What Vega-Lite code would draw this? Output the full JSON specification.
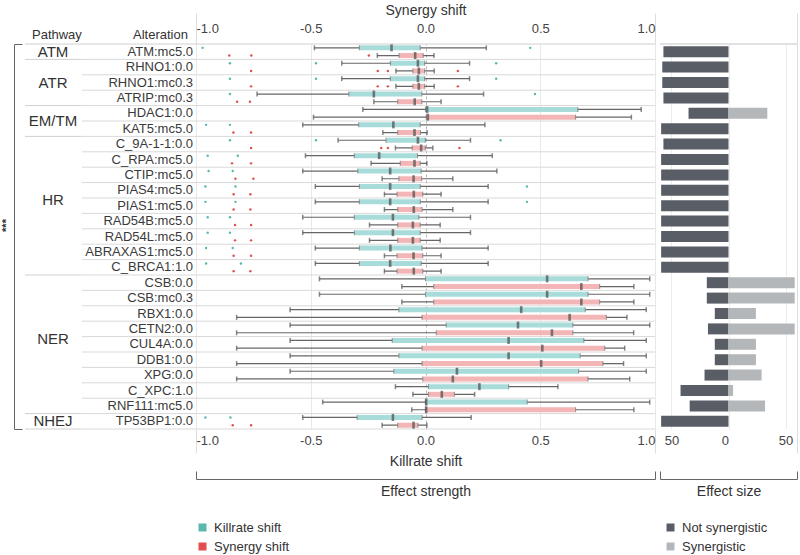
{
  "$schema": "https://vega.github.io/schema/vega-lite/v6.json",
  "width": 800,
  "height": 385,
  "autosize": "none",
  "padding": {"left": 0, "top": 44, "right": 0, "bottom": 126},
  "background": "white",
  "config": {
    "font": "Liberation Sans",
    "view": {"stroke": null},
    "axis": {"labelFont": "Liberation Sans", "titleFont": "Liberation Sans", "labelColor": "#444444", "titleColor": "#333333", "titleFontWeight": "normal"},
    "legend": {"labelFont": "Liberation Sans"},
    "text": {"font": "Liberation Sans"}
  },
  "datasets": {
    "rows": [
      {"alt": "ATM:mc5.0", "pathway": "ATM"},
      {"alt": "RHNO1:0.0", "pathway": "ATR"},
      {"alt": "RHNO1:mc0.3", "pathway": "ATR"},
      {"alt": "ATRIP:mc0.3", "pathway": "ATR"},
      {"alt": "HDAC1:0.0", "pathway": "EM/TM"},
      {"alt": "KAT5:mc5.0", "pathway": "EM/TM"},
      {"alt": "C_9A-1-1:0.0", "pathway": "HR"},
      {"alt": "C_RPA:mc5.0", "pathway": "HR"},
      {"alt": "CTIP:mc5.0", "pathway": "HR"},
      {"alt": "PIAS4:mc5.0", "pathway": "HR"},
      {"alt": "PIAS1:mc5.0", "pathway": "HR"},
      {"alt": "RAD54B:mc5.0", "pathway": "HR"},
      {"alt": "RAD54L:mc5.0", "pathway": "HR"},
      {"alt": "ABRAXAS1:mc5.0", "pathway": "HR"},
      {"alt": "C_BRCA1:1.0", "pathway": "HR"},
      {"alt": "CSB:0.0", "pathway": "NER"},
      {"alt": "CSB:mc0.3", "pathway": "NER"},
      {"alt": "RBX1:0.0", "pathway": "NER"},
      {"alt": "CETN2:0.0", "pathway": "NER"},
      {"alt": "CUL4A:0.0", "pathway": "NER"},
      {"alt": "DDB1:0.0", "pathway": "NER"},
      {"alt": "XPG:0.0", "pathway": "NER"},
      {"alt": "C_XPC:1.0", "pathway": "NER"},
      {"alt": "RNF111:mc5.0", "pathway": "NER"},
      {"alt": "TP53BP1:0.0", "pathway": "NHEJ"}
    ],
    "groups": [
      {"pathway": "ATM", "first": "ATM:mc5.0", "last": "ATM:mc5.0", "at": "ATM:mc5.0"},
      {"pathway": "ATR", "first": "RHNO1:0.0", "last": "ATRIP:mc0.3", "at": "RHNO1:mc0.3"},
      {"pathway": "EM/TM", "first": "HDAC1:0.0", "last": "KAT5:mc5.0", "at": "KAT5:mc5.0"},
      {"pathway": "HR", "first": "C_9A-1-1:0.0", "last": "C_BRCA1:1.0", "at": "PIAS1:mc5.0"},
      {"pathway": "NER", "first": "CSB:0.0", "last": "RNF111:mc5.0", "at": "CUL4A:0.0"},
      {"pathway": "NHEJ", "first": "TP53BP1:0.0", "last": "TP53BP1:0.0", "at": "TP53BP1:0.0"}
    ],
    "box": [
      {"alt": "ATM:mc5.0", "series": "Killrate shift", "lo": -0.484, "q1": -0.288, "med": -0.148, "q3": -0.023, "hi": 0.265},
      {"alt": "ATM:mc5.0", "series": "Synergy shift", "lo": -0.21, "q1": -0.115, "med": -0.045, "q3": -0.01, "hi": 0.037},
      {"alt": "RHNO1:0.0", "series": "Killrate shift", "lo": -0.365, "q1": -0.153, "med": -0.033, "q3": -0.004, "hi": 0.192},
      {"alt": "RHNO1:0.0", "series": "Synergy shift", "lo": -0.129, "q1": -0.055, "med": -0.029, "q3": -0.004, "hi": 0.038},
      {"alt": "RHNO1:mc0.3", "series": "Killrate shift", "lo": -0.365, "q1": -0.153, "med": -0.033, "q3": -0.004, "hi": 0.192},
      {"alt": "RHNO1:mc0.3", "series": "Synergy shift", "lo": -0.129, "q1": -0.055, "med": -0.029, "q3": -0.004, "hi": 0.038},
      {"alt": "ATRIP:mc0.3", "series": "Killrate shift", "lo": -0.734, "q1": -0.334, "med": -0.225, "q3": -0.016, "hi": 0.253},
      {"alt": "ATRIP:mc0.3", "series": "Synergy shift", "lo": -0.225, "q1": -0.121, "med": -0.047, "q3": -0.016, "hi": 0.068},
      {"alt": "HDAC1:0.0", "series": "Killrate shift", "lo": -0.273, "q1": 0.0, "med": 0.007, "q3": 0.664, "hi": 0.94},
      {"alt": "HDAC1:0.0", "series": "Synergy shift", "lo": -0.488, "q1": 0.003, "med": 0.01, "q3": 0.654, "hi": 0.897},
      {"alt": "KAT5:mc5.0", "series": "Killrate shift", "lo": -0.535, "q1": -0.291, "med": -0.14, "q3": -0.023, "hi": 0.259},
      {"alt": "KAT5:mc5.0", "series": "Synergy shift", "lo": -0.186, "q1": -0.121, "med": -0.048, "q3": -0.022, "hi": 0.007},
      {"alt": "C_9A-1-1:0.0", "series": "Killrate shift", "lo": -0.381, "q1": -0.172, "med": -0.033, "q3": -0.001, "hi": 0.196},
      {"alt": "C_9A-1-1:0.0", "series": "Synergy shift", "lo": -0.131, "q1": -0.058, "med": -0.019, "q3": -0.001, "hi": 0.032},
      {"alt": "C_RPA:mc5.0", "series": "Killrate shift", "lo": -0.523, "q1": -0.31, "med": -0.202, "q3": -0.035, "hi": 0.291},
      {"alt": "C_RPA:mc5.0", "series": "Synergy shift", "lo": -0.237, "q1": -0.11, "med": -0.048, "q3": -0.023, "hi": 0.006},
      {"alt": "CTIP:mc5.0", "series": "Killrate shift", "lo": -0.535, "q1": -0.295, "med": -0.154, "q3": -0.019, "hi": 0.311},
      {"alt": "CTIP:mc5.0", "series": "Synergy shift", "lo": -0.189, "q1": -0.116, "med": -0.052, "q3": -0.017, "hi": 0.119},
      {"alt": "PIAS4:mc5.0", "series": "Killrate shift", "lo": -0.48, "q1": -0.288, "med": -0.154, "q3": -0.023, "hi": 0.273},
      {"alt": "PIAS4:mc5.0", "series": "Synergy shift", "lo": -0.179, "q1": -0.124, "med": -0.051, "q3": -0.012, "hi": 0.068},
      {"alt": "PIAS1:mc5.0", "series": "Killrate shift", "lo": -0.48, "q1": -0.288, "med": -0.154, "q3": -0.023, "hi": 0.273},
      {"alt": "PIAS1:mc5.0", "series": "Synergy shift", "lo": -0.179, "q1": -0.121, "med": -0.051, "q3": -0.015, "hi": 0.119},
      {"alt": "RAD54B:mc5.0", "series": "Killrate shift", "lo": -0.535, "q1": -0.31, "med": -0.142, "q3": -0.029, "hi": 0.196},
      {"alt": "RAD54B:mc5.0", "series": "Synergy shift", "lo": -0.244, "q1": -0.121, "med": -0.055, "q3": -0.023, "hi": 0.064},
      {"alt": "RAD54L:mc5.0", "series": "Killrate shift", "lo": -0.535, "q1": -0.31, "med": -0.142, "q3": -0.023, "hi": 0.196},
      {"alt": "RAD54L:mc5.0", "series": "Synergy shift", "lo": -0.244, "q1": -0.121, "med": -0.055, "q3": -0.023, "hi": 0.064},
      {"alt": "ABRAXAS1:mc5.0", "series": "Killrate shift", "lo": -0.48, "q1": -0.288, "med": -0.153, "q3": -0.015, "hi": 0.273},
      {"alt": "ABRAXAS1:mc5.0", "series": "Synergy shift", "lo": -0.179, "q1": -0.124, "med": -0.052, "q3": -0.012, "hi": 0.068},
      {"alt": "C_BRCA1:1.0", "series": "Killrate shift", "lo": -0.48, "q1": -0.288, "med": -0.154, "q3": -0.019, "hi": 0.273},
      {"alt": "C_BRCA1:1.0", "series": "Synergy shift", "lo": -0.179, "q1": -0.124, "med": -0.051, "q3": -0.012, "hi": 0.068},
      {"alt": "CSB:0.0", "series": "Killrate shift", "lo": -0.462, "q1": 0.0, "med": 0.53, "q3": 0.708, "hi": 0.977},
      {"alt": "CSB:0.0", "series": "Synergy shift", "lo": -0.103, "q1": 0.036, "med": 0.679, "q3": 0.759, "hi": 0.908},
      {"alt": "CSB:mc0.3", "series": "Killrate shift", "lo": -0.462, "q1": 0.0, "med": 0.53, "q3": 0.708, "hi": 0.977},
      {"alt": "CSB:mc0.3", "series": "Synergy shift", "lo": -0.103, "q1": 0.036, "med": 0.679, "q3": 0.759, "hi": 0.908},
      {"alt": "RBX1:0.0", "series": "Killrate shift", "lo": -0.59, "q1": -0.116, "med": 0.417, "q3": 0.696, "hi": 0.962},
      {"alt": "RBX1:0.0", "series": "Synergy shift", "lo": -0.823, "q1": -0.015, "med": 0.628, "q3": 0.788, "hi": 0.878},
      {"alt": "CETN2:0.0", "series": "Killrate shift", "lo": -0.59, "q1": 0.09, "med": 0.403, "q3": 0.642, "hi": 0.977},
      {"alt": "CETN2:0.0", "series": "Synergy shift", "lo": -0.823, "q1": 0.047, "med": 0.551, "q3": 0.642, "hi": 0.907},
      {"alt": "CUL4A:0.0", "series": "Killrate shift", "lo": -0.59, "q1": -0.145, "med": 0.362, "q3": 0.69, "hi": 0.962},
      {"alt": "CUL4A:0.0", "series": "Synergy shift", "lo": -0.823, "q1": -0.015, "med": 0.509, "q3": 0.781, "hi": 0.868},
      {"alt": "DDB1:0.0", "series": "Killrate shift", "lo": -0.59, "q1": -0.116, "med": 0.362, "q3": 0.674, "hi": 0.962},
      {"alt": "DDB1:0.0", "series": "Synergy shift", "lo": -0.823, "q1": -0.015, "med": 0.504, "q3": 0.773, "hi": 0.863},
      {"alt": "XPG:0.0", "series": "Killrate shift", "lo": -0.59, "q1": -0.138, "med": 0.137, "q3": 0.667, "hi": 0.962},
      {"alt": "XPG:0.0", "series": "Synergy shift", "lo": -0.823, "q1": -0.012, "med": 0.119, "q3": 0.708, "hi": 0.89},
      {"alt": "C_XPC:1.0", "series": "Killrate shift", "lo": -0.131, "q1": 0.013, "med": 0.235, "q3": 0.362, "hi": 0.577},
      {"alt": "C_XPC:1.0", "series": "Synergy shift", "lo": -0.055, "q1": 0.013, "med": 0.071, "q3": 0.126, "hi": 0.214},
      {"alt": "RNF111:mc5.0", "series": "Killrate shift", "lo": -0.448, "q1": 0.0, "med": 0.003, "q3": 0.443, "hi": 0.977},
      {"alt": "RNF111:mc5.0", "series": "Synergy shift", "lo": -0.06, "q1": 0.0, "med": 0.003, "q3": 0.654, "hi": 0.908},
      {"alt": "TP53BP1:0.0", "series": "Killrate shift", "lo": -0.535, "q1": -0.298, "med": -0.142, "q3": -0.015, "hi": 0.199},
      {"alt": "TP53BP1:0.0", "series": "Synergy shift", "lo": -0.189, "q1": -0.121, "med": -0.052, "q3": -0.033, "hi": 0.006}
    ],
    "out": [
      {"alt": "ATM:mc5.0", "series": "Killrate shift", "v": -0.971},
      {"alt": "ATM:mc5.0", "series": "Killrate shift", "v": 0.456},
      {"alt": "ATM:mc5.0", "series": "Synergy shift", "v": -0.855},
      {"alt": "ATM:mc5.0", "series": "Synergy shift", "v": -0.759},
      {"alt": "ATM:mc5.0", "series": "Synergy shift", "v": -0.247},
      {"alt": "RHNO1:0.0", "series": "Killrate shift", "v": -0.852},
      {"alt": "RHNO1:0.0", "series": "Killrate shift", "v": -0.477},
      {"alt": "RHNO1:0.0", "series": "Killrate shift", "v": 0.308},
      {"alt": "RHNO1:0.0", "series": "Synergy shift", "v": -0.76},
      {"alt": "RHNO1:0.0", "series": "Synergy shift", "v": -0.208},
      {"alt": "RHNO1:0.0", "series": "Synergy shift", "v": -0.164},
      {"alt": "RHNO1:0.0", "series": "Synergy shift", "v": 0.141},
      {"alt": "RHNO1:mc0.3", "series": "Killrate shift", "v": -0.852},
      {"alt": "RHNO1:mc0.3", "series": "Killrate shift", "v": -0.477},
      {"alt": "RHNO1:mc0.3", "series": "Killrate shift", "v": 0.308},
      {"alt": "RHNO1:mc0.3", "series": "Synergy shift", "v": -0.76},
      {"alt": "RHNO1:mc0.3", "series": "Synergy shift", "v": -0.208},
      {"alt": "RHNO1:mc0.3", "series": "Synergy shift", "v": -0.164},
      {"alt": "RHNO1:mc0.3", "series": "Synergy shift", "v": 0.141},
      {"alt": "ATRIP:mc0.3", "series": "Killrate shift", "v": -0.852},
      {"alt": "ATRIP:mc0.3", "series": "Killrate shift", "v": 0.477},
      {"alt": "ATRIP:mc0.3", "series": "Synergy shift", "v": -0.821},
      {"alt": "ATRIP:mc0.3", "series": "Synergy shift", "v": -0.765},
      {"alt": "KAT5:mc5.0", "series": "Killrate shift", "v": -0.956},
      {"alt": "KAT5:mc5.0", "series": "Killrate shift", "v": -0.852},
      {"alt": "KAT5:mc5.0", "series": "Synergy shift", "v": -0.837},
      {"alt": "KAT5:mc5.0", "series": "Synergy shift", "v": -0.76},
      {"alt": "C_9A-1-1:0.0", "series": "Killrate shift", "v": -0.852},
      {"alt": "C_9A-1-1:0.0", "series": "Killrate shift", "v": -0.477},
      {"alt": "C_9A-1-1:0.0", "series": "Killrate shift", "v": 0.327},
      {"alt": "C_9A-1-1:0.0", "series": "Synergy shift", "v": -0.76},
      {"alt": "C_9A-1-1:0.0", "series": "Synergy shift", "v": -0.193},
      {"alt": "C_9A-1-1:0.0", "series": "Synergy shift", "v": -0.164},
      {"alt": "C_9A-1-1:0.0", "series": "Synergy shift", "v": 0.148},
      {"alt": "C_RPA:mc5.0", "series": "Killrate shift", "v": -0.949},
      {"alt": "C_RPA:mc5.0", "series": "Killrate shift", "v": -0.818},
      {"alt": "C_RPA:mc5.0", "series": "Synergy shift", "v": -0.843},
      {"alt": "C_RPA:mc5.0", "series": "Synergy shift", "v": -0.76},
      {"alt": "CTIP:mc5.0", "series": "Killrate shift", "v": -0.945},
      {"alt": "CTIP:mc5.0", "series": "Killrate shift", "v": -0.84},
      {"alt": "CTIP:mc5.0", "series": "Synergy shift", "v": -0.828},
      {"alt": "CTIP:mc5.0", "series": "Synergy shift", "v": -0.75},
      {"alt": "PIAS4:mc5.0", "series": "Killrate shift", "v": -0.959},
      {"alt": "PIAS4:mc5.0", "series": "Killrate shift", "v": -0.828},
      {"alt": "PIAS4:mc5.0", "series": "Killrate shift", "v": 0.442},
      {"alt": "PIAS4:mc5.0", "series": "Synergy shift", "v": -0.836},
      {"alt": "PIAS4:mc5.0", "series": "Synergy shift", "v": -0.763},
      {"alt": "PIAS1:mc5.0", "series": "Killrate shift", "v": -0.959},
      {"alt": "PIAS1:mc5.0", "series": "Killrate shift", "v": -0.828},
      {"alt": "PIAS1:mc5.0", "series": "Killrate shift", "v": 0.442},
      {"alt": "PIAS1:mc5.0", "series": "Synergy shift", "v": -0.836},
      {"alt": "PIAS1:mc5.0", "series": "Synergy shift", "v": -0.763},
      {"alt": "RAD54B:mc5.0", "series": "Killrate shift", "v": -0.949},
      {"alt": "RAD54B:mc5.0", "series": "Killrate shift", "v": -0.852},
      {"alt": "RAD54B:mc5.0", "series": "Synergy shift", "v": -0.83},
      {"alt": "RAD54B:mc5.0", "series": "Synergy shift", "v": -0.76},
      {"alt": "RAD54L:mc5.0", "series": "Killrate shift", "v": -0.949},
      {"alt": "RAD54L:mc5.0", "series": "Killrate shift", "v": -0.852},
      {"alt": "RAD54L:mc5.0", "series": "Synergy shift", "v": -0.83},
      {"alt": "RAD54L:mc5.0", "series": "Synergy shift", "v": -0.76},
      {"alt": "ABRAXAS1:mc5.0", "series": "Killrate shift", "v": -0.956},
      {"alt": "ABRAXAS1:mc5.0", "series": "Killrate shift", "v": -0.84},
      {"alt": "ABRAXAS1:mc5.0", "series": "Synergy shift", "v": -0.836},
      {"alt": "ABRAXAS1:mc5.0", "series": "Synergy shift", "v": -0.76},
      {"alt": "C_BRCA1:1.0", "series": "Killrate shift", "v": -0.956},
      {"alt": "C_BRCA1:1.0", "series": "Killrate shift", "v": -0.804},
      {"alt": "C_BRCA1:1.0", "series": "Synergy shift", "v": -0.836},
      {"alt": "C_BRCA1:1.0", "series": "Synergy shift", "v": -0.763},
      {"alt": "TP53BP1:0.0", "series": "Killrate shift", "v": -0.959},
      {"alt": "TP53BP1:0.0", "series": "Killrate shift", "v": -0.85},
      {"alt": "TP53BP1:0.0", "series": "Synergy shift", "v": -0.84},
      {"alt": "TP53BP1:0.0", "series": "Synergy shift", "v": -0.76}
    ],
    "bars": [
      {"alt": "ATM:mc5.0", "status": "Not synergistic", "n": 57},
      {"alt": "RHNO1:0.0", "status": "Not synergistic", "n": 58},
      {"alt": "RHNO1:mc0.3", "status": "Not synergistic", "n": 58},
      {"alt": "ATRIP:mc0.3", "status": "Not synergistic", "n": 57},
      {"alt": "HDAC1:0.0", "status": "Not synergistic", "n": 35},
      {"alt": "HDAC1:0.0", "status": "Synergistic", "n": 34},
      {"alt": "KAT5:mc5.0", "status": "Not synergistic", "n": 59},
      {"alt": "C_9A-1-1:0.0", "status": "Not synergistic", "n": 57},
      {"alt": "C_RPA:mc5.0", "status": "Not synergistic", "n": 59},
      {"alt": "CTIP:mc5.0", "status": "Not synergistic", "n": 59},
      {"alt": "PIAS4:mc5.0", "status": "Not synergistic", "n": 59},
      {"alt": "PIAS1:mc5.0", "status": "Not synergistic", "n": 59},
      {"alt": "RAD54B:mc5.0", "status": "Not synergistic", "n": 59},
      {"alt": "RAD54L:mc5.0", "status": "Not synergistic", "n": 59},
      {"alt": "ABRAXAS1:mc5.0", "status": "Not synergistic", "n": 59},
      {"alt": "C_BRCA1:1.0", "status": "Not synergistic", "n": 59},
      {"alt": "CSB:0.0", "status": "Not synergistic", "n": 19},
      {"alt": "CSB:0.0", "status": "Synergistic", "n": 58},
      {"alt": "CSB:mc0.3", "status": "Not synergistic", "n": 19},
      {"alt": "CSB:mc0.3", "status": "Synergistic", "n": 58},
      {"alt": "RBX1:0.0", "status": "Not synergistic", "n": 12},
      {"alt": "RBX1:0.0", "status": "Synergistic", "n": 24},
      {"alt": "CETN2:0.0", "status": "Not synergistic", "n": 18},
      {"alt": "CETN2:0.0", "status": "Synergistic", "n": 58},
      {"alt": "CUL4A:0.0", "status": "Not synergistic", "n": 12},
      {"alt": "CUL4A:0.0", "status": "Synergistic", "n": 24},
      {"alt": "DDB1:0.0", "status": "Not synergistic", "n": 12},
      {"alt": "DDB1:0.0", "status": "Synergistic", "n": 24},
      {"alt": "XPG:0.0", "status": "Not synergistic", "n": 21},
      {"alt": "XPG:0.0", "status": "Synergistic", "n": 29},
      {"alt": "C_XPC:1.0", "status": "Not synergistic", "n": 42},
      {"alt": "C_XPC:1.0", "status": "Synergistic", "n": 4},
      {"alt": "RNF111:mc5.0", "status": "Not synergistic", "n": 34},
      {"alt": "RNF111:mc5.0", "status": "Synergistic", "n": 32},
      {"alt": "TP53BP1:0.0", "status": "Not synergistic", "n": 59}
    ]
  },
  "encoding": {
    "y": {"field": "alt", "type": "nominal", "scale": {"domain": ["ATM:mc5.0","RHNO1:0.0","RHNO1:mc0.3","ATRIP:mc0.3","HDAC1:0.0","KAT5:mc5.0","C_9A-1-1:0.0","C_RPA:mc5.0","CTIP:mc5.0","PIAS4:mc5.0","PIAS1:mc5.0","RAD54B:mc5.0","RAD54L:mc5.0","ABRAXAS1:mc5.0","C_BRCA1:1.0","CSB:0.0","CSB:mc0.3","RBX1:0.0","CETN2:0.0","CUL4A:0.0","DDB1:0.0","XPG:0.0","C_XPC:1.0","RNF111:mc5.0","TP53BP1:0.0"], "paddingInner": 0, "paddingOuter": 0}, "axis": null}
  },
  "layer": [
    {
      "layer": [
        {
          "data": {"name": "rows"},
          "mark": {"type": "rule", "color": "#d9d9d9", "strokeWidth": 1},
          "encoding": {
            "y": {"field": "alt", "type": "nominal", "bandPosition": 1, "axis": {"orient": "left", "offset": -14, "domain": true, "domainColor": "#666666", "domainWidth": 1, "ticks": true, "values": ["ATM:mc5.0"], "bandPosition": 0, "tickSize": -8, "tickColor": "#666666", "tickWidth": 1, "labels": false, "grid": false, "title": "***", "titleFontSize": 11, "titleFontWeight": "bold", "titlePadding": 2, "titleColor": "#333333", "titleY": 181}},
            "x": {"datum": -1.497, "scale": {"domain": [-1, 1], "range": [196, 655], "nice": false, "zero": false}, "axis": {"orient": "bottom", "offset": 50, "values": [-1, 1], "labels": false, "ticks": true, "tickSize": -8, "tickColor": "#666666", "domain": true, "domainColor": "#666666", "grid": false, "title": "Effect strength", "titleFontSize": 14, "titlePadding": 5}},
            "x2": {"datum": 1}
          }
        },
        {
          "data": {"name": "groups"},
          "mark": {"type": "rule", "color": "#d0d0d0", "strokeWidth": 1},
          "encoding": {
            "y": {"field": "last", "type": "nominal", "bandPosition": 1, "axis": {"orient": "left", "offset": -14, "domain": false, "ticks": true, "values": ["TP53BP1:0.0"], "bandPosition": 1, "tickSize": -8, "tickColor": "#666666", "tickWidth": 1, "labels": false, "grid": false, "title": null}},
            "x": {"datum": -1.745, "scale": {"domain": [-1, 1], "range": [196, 655], "nice": false, "zero": false}, "axis": {"orient": "top", "values": [-1, 1], "labels": false, "ticks": true, "tickSize": 31, "tickColor": "#dddddd", "domain": false, "grid": false, "title": null}},
            "x2": {"datum": -1.497}
          }
        },
        {
          "data": {"name": "groups"},
          "transform": [{"filter": "datum.pathway === 'ATM'"}],
          "mark": {"type": "rule", "color": "#d0d0d0", "strokeWidth": 1},
          "encoding": {
            "y": {"field": "first", "type": "nominal", "bandPosition": 0},
            "x": {"datum": -1.745, "scale": {"domain": [-1, 1], "range": [196, 655], "nice": false, "zero": false}, "axis": {"orient": "bottom", "values": [-1, 1], "labels": false, "ticks": true, "tickSize": 24, "tickColor": "#dddddd", "domain": false, "grid": false, "title": null}},
            "x2": {"datum": 1}
          }
        },
        {
          "data": {"name": "box"},
          "mark": {"type": "rule", "color": "#666666", "strokeWidth": 1.2},
          "encoding": {
            "yOffset": {"field": "series", "type": "nominal", "scale": {"domain": ["Killrate shift", "Synergy shift"], "paddingInner": 0, "paddingOuter": 0}},
            "x": {"field": "lo", "type": "quantitative", "scale": {"domain": [-1, 1], "range": [196, 655], "nice": false, "zero": false}, "axis": {"orient": "top", "values": [-1, -0.5, 0, 0.5, 1], "labelExpr": "replace(format(datum.value, '.1f'), '\u2212', '-')", "labelFlush": true, "labelFontSize": 13, "labelPadding": 9, "ticks": false, "domain": false, "grid": false, "title": "Synergy shift", "titleFontSize": 14, "titlePadding": 5}},
            "x2": {"field": "hi"}
          }
        },
        {
          "data": {"name": "box"},
          "mark": {"type": "bar", "size": 5},
          "encoding": {
            "yOffset": {"field": "series", "type": "nominal", "scale": {"domain": ["Killrate shift", "Synergy shift"], "paddingInner": 0, "paddingOuter": 0}},
            "x": {"field": "q1", "type": "quantitative", "scale": {"domain": [-1, 1], "range": [196, 655], "nice": false, "zero": false}, "axis": {"orient": "bottom", "values": [-1, -0.5, 0, 0.5, 1], "labelExpr": "replace(format(datum.value, '.1f'), '\u2212', '-')", "labelFlush": true, "labelFontSize": 13, "labelPadding": 5, "ticks": false, "domain": false, "grid": true, "gridColor": {"condition": {"test": "datum.value === 0", "value": "#b5b5b5"}, "value": "#e8e8e8"}, "gridDash": {"condition": {"test": "datum.value === 0", "value": [3, 3]}, "value": []}, "title": "Killrate shift", "titleFontSize": 14, "titlePadding": 7}},
            "x2": {"field": "q3"},
            "fill": {"field": "series", "type": "nominal", "scale": {"domain": ["Killrate shift", "Synergy shift"], "range": ["#a7dcda", "#f3b5b5"]}, "legend": null}
          }
        },
        {
          "data": {"name": "box"},
          "mark": {"type": "tick", "size": 5, "thickness": 1.1, "color": "#777777"},
          "encoding": {
            "yOffset": {"field": "series", "type": "nominal", "scale": {"domain": ["Killrate shift", "Synergy shift"], "paddingInner": 0, "paddingOuter": 0}},
            "x": {"field": "q1", "type": "quantitative", "scale": {"domain": [-1, 1], "range": [196, 655], "nice": false, "zero": false}, "axis": null}
          }
        },
        {
          "data": {"name": "box"},
          "mark": {"type": "tick", "size": 5, "thickness": 1.1, "color": "#777777"},
          "encoding": {
            "yOffset": {"field": "series", "type": "nominal", "scale": {"domain": ["Killrate shift", "Synergy shift"], "paddingInner": 0, "paddingOuter": 0}},
            "x": {"field": "q3", "type": "quantitative", "scale": {"domain": [-1, 1], "range": [196, 655], "nice": false, "zero": false}, "axis": null}
          }
        },
        {
          "data": {"name": "box"},
          "mark": {"type": "tick", "size": 5, "thickness": 1.5, "color": "#555555"},
          "encoding": {
            "yOffset": {"field": "series", "type": "nominal", "scale": {"domain": ["Killrate shift", "Synergy shift"], "paddingInner": 0, "paddingOuter": 0}},
            "x": {"field": "lo", "type": "quantitative", "scale": {"domain": [-1, 1], "range": [196, 655], "nice": false, "zero": false}, "axis": null}
          }
        },
        {
          "data": {"name": "box"},
          "mark": {"type": "tick", "size": 5, "thickness": 1.5, "color": "#555555"},
          "encoding": {
            "yOffset": {"field": "series", "type": "nominal", "scale": {"domain": ["Killrate shift", "Synergy shift"], "paddingInner": 0, "paddingOuter": 0}},
            "x": {"field": "hi", "type": "quantitative", "scale": {"domain": [-1, 1], "range": [196, 655], "nice": false, "zero": false}, "axis": null}
          }
        },
        {
          "data": {"name": "box"},
          "mark": {"type": "tick", "size": 7, "thickness": 2.6, "color": "#4a4a4a"},
          "encoding": {
            "yOffset": {"field": "series", "type": "nominal", "scale": {"domain": ["Killrate shift", "Synergy shift"], "paddingInner": 0, "paddingOuter": 0}},
            "x": {"field": "med", "type": "quantitative", "scale": {"domain": [-1, 1], "range": [196, 655], "nice": false, "zero": false}, "axis": null}
          }
        },
        {
          "data": {"name": "out"},
          "mark": {"type": "point", "filled": true, "size": 6, "opacity": 1},
          "encoding": {
            "yOffset": {"field": "series", "type": "nominal", "scale": {"domain": ["Killrate shift", "Synergy shift"], "paddingInner": 0, "paddingOuter": 0}},
            "x": {"field": "v", "type": "quantitative", "scale": {"domain": [-1, 1], "range": [196, 655], "nice": false, "zero": false}, "axis": null},
            "color": {"field": "series", "type": "nominal", "scale": {"domain": ["Killrate shift", "Synergy shift"], "range": ["#5ab9ae", "#e24d4d"]}, "legend": {"orient": "none", "legendX": 196, "legendY": 477, "title": null, "symbolType": "square", "symbolSize": 64, "symbolStrokeWidth": 0, "symbolOpacity": 1, "labelFontSize": 13, "labelColor": "#333333", "rowPadding": 5, "labelOffset": 5}}
          }
        },
        {
          "data": {"name": "rows"},
          "mark": {"type": "text", "align": "right", "baseline": "middle", "fontSize": 13, "color": "#3a3a3a"},
          "encoding": {
            "x": {"datum": -1.013, "scale": {"domain": [-1, 1], "range": [196, 655], "nice": false, "zero": false}, "axis": null},
            "text": {"field": "alt"}
          }
        },
        {
          "data": {"name": "groups"},
          "transform": [{"filter": "indexof(['ATM','ATR','NHEJ'], datum.pathway) >= 0"}],
          "mark": {"type": "text", "align": "center", "baseline": "middle", "fontSize": 15, "color": "#333333"},
          "encoding": {
            "y": {"field": "at", "type": "nominal", "bandPosition": 0.5},
            "x": {"datum": -1.623, "scale": {"domain": [-1, 1], "range": [196, 655], "nice": false, "zero": false}, "axis": null},
            "text": {"field": "pathway"}
          }
        },
        {
          "data": {"name": "groups"},
          "transform": [{"filter": "indexof(['HR','NER'], datum.pathway) >= 0"}],
          "mark": {"type": "text", "align": "center", "baseline": "middle", "fontSize": 15, "color": "#333333"},
          "encoding": {
            "y": {"field": "at", "type": "nominal", "bandPosition": 0.15},
            "x": {"datum": -1.623, "scale": {"domain": [-1, 1], "range": [196, 655], "nice": false, "zero": false}, "axis": null},
            "text": {"field": "pathway"}
          }
        },
        {
          "data": {"name": "groups"},
          "transform": [{"filter": "datum.pathway === 'EM/TM'"}],
          "mark": {"type": "text", "align": "center", "baseline": "middle", "fontSize": 15, "color": "#333333"},
          "encoding": {
            "y": {"field": "at", "type": "nominal", "bandPosition": 0},
            "x": {"datum": -1.623, "scale": {"domain": [-1, 1], "range": [196, 655], "nice": false, "zero": false}, "axis": null},
            "text": {"field": "pathway"}
          }
        },
        {
          "data": {"name": "groups"},
          "transform": [{"filter": "datum.pathway === 'ATM'"}],
          "mark": {"type": "text", "align": "center", "baseline": "middle", "fontSize": 13, "color": "#333333", "dy": -9},
          "encoding": {
            "y": {"field": "first", "type": "nominal", "bandPosition": 0},
            "x": {"datum": -1.606, "scale": {"domain": [-1, 1], "range": [196, 655], "nice": false, "zero": false}, "axis": null},
            "text": {"value": "Pathway"}
          }
        },
        {
          "data": {"name": "groups"},
          "transform": [{"filter": "datum.pathway === 'ATM'"}],
          "mark": {"type": "text", "align": "right", "baseline": "middle", "fontSize": 13, "color": "#333333", "dy": -9},
          "encoding": {
            "y": {"field": "first", "type": "nominal", "bandPosition": 0},
            "x": {"datum": -1.035, "scale": {"domain": [-1, 1], "range": [196, 655], "nice": false, "zero": false}, "axis": null},
            "text": {"value": "Alteration"}
          }
        }
      ],
      "resolve": {"axis": {"x": "independent", "y": "independent"}}
    },
    {
      "layer": [
        {
          "data": {"name": "bars"},
          "transform": [{"filter": "datum.status === 'Not synergistic'"}],
          "mark": {"type": "bar", "size": 11},
          "encoding": {
            "x": {"field": "n", "type": "quantitative", "scale": {"domain": [0, 60], "range": [728.5, 660], "nice": false, "zero": true}, "axis": {"orient": "bottom", "values": [0, 50], "labelFontSize": 13, "labelPadding": 5, "ticks": false, "domain": false, "grid": true, "gridColor": "#ececec", "title": null}},
            "color": {"field": "status", "type": "nominal", "scale": {"domain": ["Not synergistic", "Synergistic"], "range": ["#595d66", "#b4b7b9"]}, "legend": {"orient": "none", "legendX": 664, "legendY": 477, "title": null, "symbolType": "square", "symbolSize": 64, "symbolStrokeWidth": 0, "symbolOpacity": 1, "labelFontSize": 13, "labelColor": "#333333", "rowPadding": 5, "labelOffset": 5}}
          }
        },
        {
          "data": {"name": "bars"},
          "transform": [{"filter": "datum.status === 'Synergistic'"}],
          "mark": {"type": "bar", "size": 11},
          "encoding": {
            "x": {"field": "n", "type": "quantitative", "scale": {"domain": [0, 60], "range": [728.5, 797], "nice": false, "zero": true}, "axis": {"orient": "bottom", "values": [50], "labelFontSize": 13, "labelPadding": 5, "ticks": false, "domain": false, "grid": true, "gridColor": "#ececec", "title": null}},
            "color": {"field": "status", "type": "nominal", "scale": {"domain": ["Not synergistic", "Synergistic"], "range": ["#595d66", "#b4b7b9"]}, "legend": {"orient": "none", "legendX": 664, "legendY": 477, "title": null, "symbolType": "square", "symbolSize": 64, "symbolStrokeWidth": 0, "symbolOpacity": 1, "labelFontSize": 13, "labelColor": "#333333", "rowPadding": 5, "labelOffset": 5}}
          }
        },
        {
          "data": {"name": "groups"},
          "transform": [{"filter": "datum.pathway === 'ATM'"}],
          "mark": {"type": "rule", "color": "#dddddd", "strokeWidth": 1},
          "encoding": {
            "y": {"field": "first", "type": "nominal", "bandPosition": 0},
            "x": {"datum": -60, "scale": {"domain": [-60, 60], "range": [660, 797], "nice": false, "zero": false}, "axis": {"orient": "bottom", "offset": 50, "values": [-60, 60], "labels": false, "ticks": true, "tickSize": -8, "tickColor": "#666666", "domain": true, "domainColor": "#666666", "grid": false, "title": "Effect size", "titleFontSize": 14, "titlePadding": 5}},
            "x2": {"datum": 60}
          }
        },
        {
          "data": {"name": "groups"},
          "transform": [{"filter": "datum.pathway === 'ATM'"}],
          "mark": {"type": "rule", "color": "#dddddd", "strokeWidth": 1},
          "encoding": {
            "y": {"field": "first", "type": "nominal", "bandPosition": 0},
            "x": {"datum": -60, "scale": {"domain": [-60, 60], "range": [660, 797], "nice": false, "zero": false}, "axis": {"orient": "top", "values": [60], "labels": false, "ticks": true, "tickSize": 31, "tickColor": "#dddddd", "domain": false, "grid": true, "gridColor": "#dddddd", "title": null}},
            "x2": {"datum": 60}
          }
        },
        {
          "data": {"name": "groups"},
          "transform": [{"filter": "datum.pathway === 'ATM'"}],
          "mark": {"type": "rule", "color": "#dddddd", "strokeWidth": 1},
          "encoding": {
            "y": {"field": "first", "type": "nominal", "bandPosition": 0},
            "x": {"datum": -60, "scale": {"domain": [-60, 60], "range": [660, 797], "nice": false, "zero": false}, "axis": {"orient": "bottom", "values": [60], "labels": false, "ticks": true, "tickSize": 24, "tickColor": "#dddddd", "domain": false, "grid": false, "title": null}},
            "x2": {"datum": 60}
          }
        }
      ],
      "resolve": {"scale": {"x": "independent"}, "axis": {"x": "independent", "y": "independent"}}
    }
  ],
  "resolve": {"scale": {"x": "independent", "color": "independent"}, "axis": {"x": "independent", "y": "independent"}}
}
